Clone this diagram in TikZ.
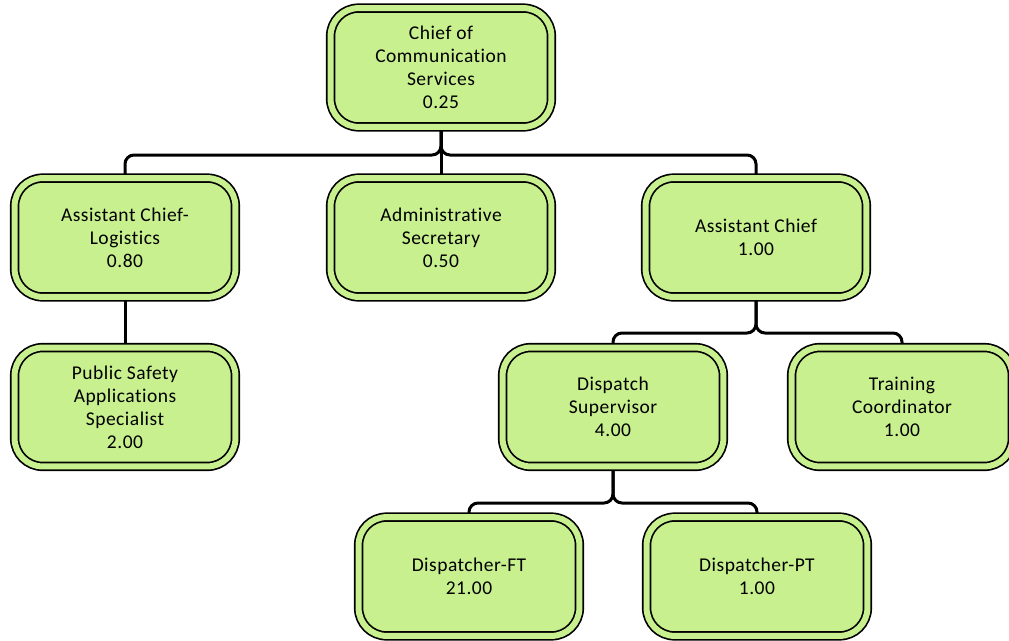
\documentclass[tikz,border=0pt]{standalone}
\usepackage{fontspec}
\setmainfont{Carlito}[Ligatures=NoCommon,LetterSpace=2.5]
\usetikzlibrary{backgrounds}
\definecolor{boxgreen}{RGB}{200,240,143}
\begin{document}
\begin{tikzpicture}[x=1pt,y=-1pt,
  orgbox/.style={draw=black, line width=1.7pt, double=boxgreen, double distance=6pt,
    fill=boxgreen, rounded corners=28pt, minimum width=220.8pt, minimum height=118.8pt,
    inner sep=0pt, align=center, font=\fontsize{19.5pt}{23pt}\selectfont},
  conn/.style={draw=black, line width=3pt, rounded corners=9pt}]
\useasboundingbox (0,0) rectangle (1009,640);
\node[orgbox] (chief) at (441,67.5) {Chief of\\Communication\\Services\\0.25};
\node[orgbox] (acl) at (125,237.5) {Assistant Chief-\\Logistics\\0.80};
\node[orgbox] (adm) at (441,237.5) {Administrative\\Secretary\\0.50};
\node[orgbox] (ac) at (756,237.5) {Assistant Chief\\1.00};
\node[orgbox] (psas) at (125,407) {Public Safety\\Applications\\Specialist\\2.00};
\node[orgbox] (ds) at (613,407) {Dispatch\\Supervisor\\4.00};
\node[orgbox] (tc) at (902,407) {Training\\Coordinator\\1.00};
\node[orgbox] (dft) at (469,576.5) {Dispatcher-FT\\21.00};
\node[orgbox] (dpt) at (757,576.5) {Dispatcher-PT\\1.00};
\coordinate (s1) at (441,155);
\coordinate (s2) at (756,333);
\coordinate (s3) at (613,503);
\begin{pgfonlayer}{background}
\draw[conn] (chief.south) -- (s1) -| (acl.north);
\draw[conn] (chief.south) -- (s1) -| (ac.north);
\draw[conn] (chief.south) -- (adm.north);
\draw[conn] (acl.south) -- (psas.north);
\draw[conn] (ac.south) -- (s2) -| (ds.north);
\draw[conn] (ac.south) -- (s2) -| (tc.north);
\draw[conn] (ds.south) -- (s3) -| (dft.north);
\draw[conn] (ds.south) -- (s3) -| (dpt.north);
\end{pgfonlayer}
\end{tikzpicture}
\end{document}
